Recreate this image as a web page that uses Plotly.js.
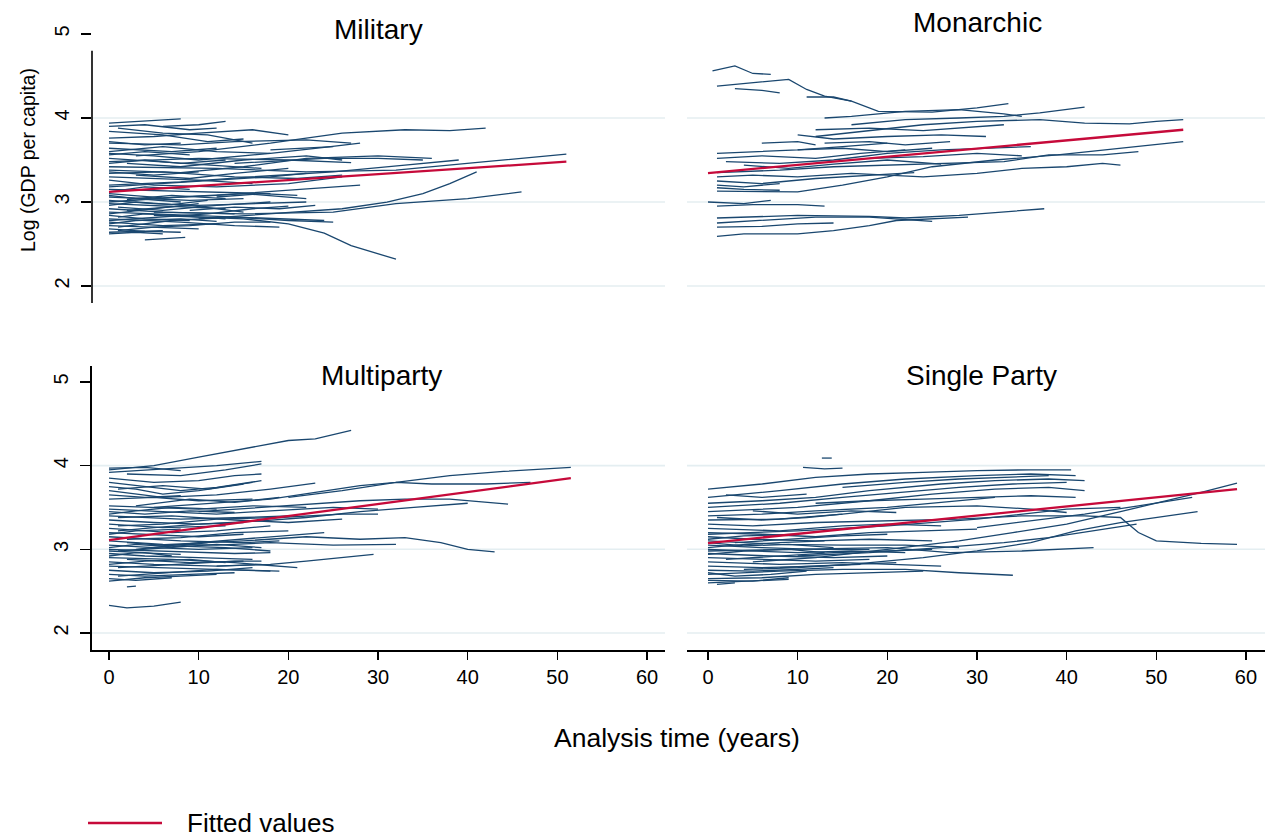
<!DOCTYPE html>
<html>
<head>
<meta charset="utf-8">
<script src="https://cdn.plot.ly/plotly-3.0.1.min.js"></script>
<style>
html,body{margin:0;padding:0;background:#fff;}
#chart{width:1265px;height:840px;}
</style>
</head>
<body>
<div id="chart"></div>
<script>
// ---- Data (analysis time in years, log GDP per capita) ----
// Each path: [t0, y0, t1, y1, ...]
const panelTitles = ["Military", "Monarchic", "Multiparty", "Single Party"];
const xTickVals = [0, 10, 20, 30, 40, 50, 60];
const yTickVals = [2, 3, 4, 5];
const gridVals = [2, 3, 4];

const militaryPaths = [
  [0,3.94, 8,3.99],
  [0,3.90, 4,3.92, 9,3.86, 12,3.88],
  [0,3.84, 6,3.80, 11,3.72, 15,3.75],
  [0,3.76, 5,3.78, 10,3.82, 16,3.86, 20,3.80],
  [0,3.70, 8,3.68, 14,3.72, 22,3.74, 27,3.70],
  [0,3.64, 7,3.60, 12,3.64],
  [3,3.55, 10,3.60, 18,3.70, 26,3.82, 33,3.86, 38,3.85, 42,3.88],
  [0,3.58, 5,3.55, 10,3.50, 18,3.58, 24,3.65, 28,3.70],
  [0,3.52, 6,3.48, 12,3.44, 17,3.40],
  [0,3.48, 10,3.52, 20,3.50, 27,3.47],
  [0,3.42, 12,3.40, 22,3.36, 32,3.38, 42,3.48, 51,3.57],
  [0,3.38, 8,3.35, 15,3.42, 22,3.52, 30,3.55, 36,3.52],
  [0,3.34, 6,3.36, 14,3.30, 21,3.28, 26,3.32],
  [0,3.30, 10,3.26, 16,3.22],
  [0,3.26, 5,3.20, 12,3.18, 20,3.22, 26,3.30],
  [0,3.20, 8,3.24, 16,3.30, 25,3.36, 33,3.44, 39,3.50],
  [0,3.15, 10,3.12, 18,3.10],
  [0,3.10, 6,3.05, 12,3.08, 20,3.14, 28,3.20],
  [0,3.06, 9,3.02, 15,3.04],
  [0,3.02, 5,2.98, 10,2.96, 16,2.98, 22,3.00],
  [0,2.98, 7,2.95, 13,2.92],
  [10,2.80, 20,2.88, 26,2.92, 31,3.00, 35,3.10, 38,3.22, 41,3.36],
  [5,2.88, 15,2.86, 25,2.88, 32,2.98, 40,3.04, 46,3.12],
  [0,2.92, 6,2.88, 14,2.86],
  [0,2.88, 10,2.84, 18,2.80, 24,2.78],
  [0,2.84, 4,2.80, 9,2.78],
  [0,2.80, 8,2.76, 14,2.72, 19,2.70],
  [0,2.76, 6,2.72, 12,2.74],
  [0,2.72, 5,2.70, 10,2.68],
  [0,2.68, 4,2.65, 8,2.64],
  [0,2.64, 6,2.66],
  [5,2.84, 15,2.80, 20,2.74, 24,2.63, 27,2.48, 32,2.32],
  [4,2.55, 8.5,2.58],
  [0,3.56, 4,3.60, 9,3.56],
  [1,3.88, 6,3.82, 11,3.80, 16,3.70],
  [2,3.46, 8,3.42, 15,3.50, 22,3.55, 26,3.50],
  [0,3.00, 8,3.06, 15,3.10, 22,3.04],
  [2,2.90, 9,2.96, 15,2.88],
  [0,3.12, 4,3.18, 9,3.15],
  [1,2.70, 7,2.78, 14,2.82, 20,2.78, 25,2.76],
  [0,2.86, 5,2.92, 10,2.98],
  [3,3.32, 9,3.28, 14,3.34, 20,3.40],
  [0,3.72, 4,3.68, 8,3.70],
  [14,3.46, 24,3.52, 30,3.52, 35,3.50],
  [18,3.62, 22,3.64, 25,3.66],
  [0,2.62, 3,2.64, 6,2.62],
  [0,3.18, 6,3.22, 12,3.26, 18,3.30, 22,3.34],
  [0,2.78, 5,2.82, 11,2.86, 16,2.92, 20,2.95],
  [0,3.36, 5,3.32, 10,3.36],
  [1,2.94, 6,2.90, 12,2.96, 18,3.00],
  [2,3.03, 7,3.08, 13,3.04],
  [0,2.96, 3,3.00, 7,2.97, 11,3.02],
  [1,2.82, 4,2.86, 9,2.83, 13,2.80],
  [0,2.74, 3,2.78, 8,2.80, 12,2.77],
  [0,3.08, 3,3.04, 8,3.00],
  [1,2.66, 5,2.70, 9,2.72, 14,2.76, 18,2.76],
  [0,3.46, 4,3.50, 8,3.46, 13,3.50],
  [0,3.60, 6,3.66, 12,3.60, 18,3.58],
  [6,3.90, 10,3.92, 13,3.96],
  [9,2.90, 14,2.94, 19,2.92, 23,2.96],
  [12,3.06, 17,3.10, 21,3.08]
];

const monarchicPaths = [
  [0.5,4.56, 3,4.62, 5,4.53, 7,4.52],
  [1,4.38, 5,4.42, 9,4.46, 11,4.34, 13,4.26, 16,4.20, 19,4.08, 25,4.07, 30,4.12, 33.5,4.17],
  [3,4.35, 6,4.33, 8,4.30],
  [11,4.25, 14,4.25, 16,4.20],
  [13,4.00, 16,4.02, 22,4.08, 28,4.10, 33,4.05, 35,4.02],
  [16,3.92, 22,3.98, 28,4.00, 33,4.02, 37,4.06, 42,4.13],
  [12,3.78, 18,3.85, 24,3.92, 30,3.96, 37,3.98, 42,3.94, 47,3.93, 50,3.96, 53,3.98],
  [12,3.86, 18,3.88, 24,3.85, 30,3.90, 33,3.92],
  [10,3.80, 14,3.75, 20,3.78, 26,3.80, 31,3.78],
  [13,3.70, 18,3.72, 22,3.68, 27,3.72],
  [1,3.58, 5,3.60, 10,3.62, 15,3.66, 20,3.70],
  [1,3.52, 6,3.55, 12,3.52, 17,3.58, 22,3.62],
  [2,3.48, 8,3.46, 14,3.50, 20,3.58, 26,3.62, 32,3.64, 36,3.66],
  [1,3.35, 8,3.38, 14,3.42, 20,3.44, 28,3.46, 33,3.48, 38,3.56, 44,3.56, 48,3.60],
  [1,3.13, 10,3.12, 15,3.20, 20,3.30, 25,3.42, 32,3.50, 39,3.56, 46,3.64, 50,3.68, 53,3.72],
  [1,3.25, 6,3.22, 12,3.28, 18,3.32, 23,3.35],
  [1,3.30, 5,3.32, 10,3.30, 16,3.34, 24,3.30, 30,3.34, 35,3.40, 40,3.42, 44,3.46, 46,3.44],
  [1,3.20, 4,3.18, 8,3.22],
  [1,3.17, 4,3.15, 8,3.14],
  [0,3.00, 4,2.98, 7,3.02],
  [1,2.95, 5,2.97, 10,2.97, 13,2.95],
  [1,2.81, 10,2.84, 18,2.83, 22,2.81, 28,2.84, 33,2.88, 37.5,2.92],
  [1,2.75, 7,2.79, 12,2.82, 18,2.82, 25,2.77],
  [1,2.59, 4,2.62, 10,2.62, 14,2.66, 18,2.72, 21,2.78, 29,2.82],
  [1,2.70, 6,2.71, 10,2.74, 14,2.75],
  [4,3.44, 9,3.40, 14,3.45, 20,3.50, 26,3.45],
  [10,3.62, 15,3.64, 20,3.60, 25,3.64],
  [18,3.52, 24,3.54, 30,3.58, 35,3.55],
  [6,3.70, 10,3.72, 12,3.68]
];

const multipartyPaths = [
  [0,3.95, 5,4.00, 10,4.10, 15,4.20, 20,4.30, 23,4.32, 27,4.42],
  [0,3.97, 4,3.98, 8,3.94],
  [0,3.92, 6,3.96, 12,4.00, 17,4.05],
  [2,3.90, 8,3.88, 13,3.95, 17,4.02],
  [0,3.85, 5,3.80, 10,3.82, 14,3.88, 17,3.90],
  [0,3.80, 4,3.75, 8,3.70, 12,3.74, 17,3.82],
  [0,3.75, 3,3.72, 6,3.66, 10,3.70, 15,3.78],
  [0,3.70, 6,3.62, 12,3.65, 18,3.72, 23,3.79],
  [5,3.50, 12,3.55, 18,3.60, 23,3.68, 28,3.76, 32,3.80, 38,3.88, 44,3.93, 51.5,3.98],
  [20,3.62, 26,3.70, 32,3.80, 36,3.78, 42,3.78, 47,3.80],
  [10,3.45, 20,3.52, 28,3.58, 33,3.60, 38,3.60, 44.5,3.54],
  [5,3.05, 15,3.10, 22,3.15, 28,3.12, 33,3.14, 37,3.08, 40,3.00, 43,2.97],
  [12,2.80, 18,2.82, 22,2.86, 26,2.90, 29.5,2.94],
  [0,2.33, 2,2.30, 5,2.32, 8,2.37],
  [0,3.52, 5,3.50, 10,3.48, 16,3.52, 22,3.50],
  [0,3.48, 6,3.45, 12,3.42, 18,3.46, 25,3.50, 30,3.48],
  [0,3.45, 4,3.42, 9,3.46, 14,3.44],
  [0,3.40, 8,3.36, 15,3.38, 20,3.40],
  [0,3.35, 5,3.32, 10,3.30, 17,3.34, 22,3.38, 28,3.45, 34,3.50, 40,3.55],
  [0,3.30, 6,3.26, 13,3.28],
  [0,3.25, 7,3.20, 12,3.22, 18,3.28],
  [0,3.20, 4,3.18, 10,3.15, 15,3.18],
  [0,3.15, 8,3.10, 15,3.08, 19,3.10],
  [0,3.10, 6,3.06, 12,3.05, 18,3.08, 25,3.05, 32,3.06],
  [0,3.05, 5,3.02, 10,3.00, 16,3.02],
  [0,3.00, 6,2.98, 14,2.95, 18,2.96],
  [0,2.95, 4,2.92, 10,2.90, 16,2.88],
  [0,2.90, 7,2.88, 14,2.84, 19,2.80, 21,2.78],
  [0,2.85, 5,2.82, 12,2.80, 17,2.82],
  [0,2.80, 6,2.78, 12,2.76, 18,2.74],
  [0,2.75, 5,2.72, 11,2.74, 16,2.78],
  [0,2.70, 4,2.68, 9,2.70, 14,2.72],
  [0,2.65, 3,2.63, 7,2.66],
  [2,2.55, 3,2.56],
  [0,3.60, 5,3.62, 10,3.58, 16,3.60],
  [0,3.65, 4,3.62, 8,3.64],
  [1,3.38, 7,3.40, 14,3.35, 20,3.32, 26,3.36],
  [2,3.12, 8,3.14, 14,3.20, 20,3.22],
  [1,2.98, 6,3.02, 12,3.06, 17,3.02],
  [2,2.88, 9,2.84, 15,2.86],
  [1,2.78, 8,2.82, 14,2.86, 17,2.86],
  [3,3.00, 10,3.08, 17,3.14, 22,3.18, 24,3.20],
  [3,3.52, 9,3.60, 14,3.56, 19,3.62],
  [1,3.28, 6,3.30, 12,3.36, 19,3.38, 26,3.42, 30,3.42],
  [0,2.98, 4,2.96, 7,2.92],
  [1,3.72, 6,3.76, 11,3.72, 16,3.80],
  [2,3.08, 7,3.04, 13,3.02, 18,2.98],
  [1,2.68, 6,2.72, 12,2.76, 19,2.74],
  [1,3.22, 5,3.26, 10,3.30, 15,3.32],
  [0,3.02, 3,3.06, 7,3.03, 11,3.08],
  [0,2.92, 3,2.96, 8,2.94],
  [0,2.82, 4,2.86, 9,2.88, 13,2.84],
  [0,3.42, 3,3.46, 7,3.50, 12,3.48],
  [0,3.18, 3,3.22, 8,3.24],
  [0,2.62, 4,2.66, 8,2.68, 12,2.70]
];

const singlePartyPaths = [
  [10.6,3.98, 13,3.96, 15,3.97],
  [12.7,4.09, 13.8,4.09],
  [0,3.72, 6,3.78, 12,3.86, 18,3.90, 24,3.92, 30,3.94, 36,3.95, 40.5,3.95],
  [0,3.62, 8,3.70, 15,3.78, 22,3.84, 30,3.88, 36,3.90, 41,3.88],
  [0,3.55, 6,3.58, 12,3.62, 18,3.70, 26,3.78, 32,3.82, 38,3.84, 42,3.82],
  [0,3.50, 8,3.55, 15,3.62, 22,3.68, 28,3.74, 34,3.78, 40,3.80],
  [0,3.45, 10,3.50, 18,3.58, 25,3.66, 32,3.72, 38,3.74, 42,3.70],
  [0,3.40, 6,3.42, 12,3.46, 20,3.50, 26,3.56, 32,3.62],
  [0,3.35, 8,3.36, 15,3.42, 22,3.50, 30,3.52, 36,3.48, 40,3.44],
  [0,3.30, 5,3.28, 12,3.32, 20,3.34, 28,3.36, 35,3.40, 42,3.40, 46,3.38, 48,3.20, 50,3.10, 55,3.07, 59,3.06],
  [0,3.25, 8,3.22, 15,3.28, 20,3.30, 26,3.28],
  [0,3.20, 6,3.18, 12,3.15, 18,3.20, 24,3.22, 30,3.24],
  [0,3.15, 5,3.12, 12,3.10, 18,3.12, 25,3.10],
  [0,3.10, 8,3.06, 15,3.05, 22,3.05, 28,3.02],
  [0,3.05, 6,3.02, 12,3.00, 18,3.00],
  [0,3.00, 5,2.98, 10,2.96, 16,2.98, 22,2.96],
  [0,2.95, 7,2.92, 14,2.90, 20,2.92],
  [0,2.90, 5,2.88, 12,2.86, 18,2.88],
  [0,2.85, 8,2.82, 15,2.84, 22,2.82, 26,2.80],
  [0,2.80, 6,2.78, 12,2.80, 17,2.82],
  [0,2.75, 5,2.74, 10,2.76, 14,2.78],
  [0,2.70, 8,2.74, 15,2.76, 22,2.76, 28,2.72, 34,2.69],
  [0,2.65, 6,2.66, 12,2.70, 18,2.72, 24,2.74],
  [0,2.60, 4,2.62, 9,2.64],
  [1,2.58, 3,2.60],
  [5,2.85, 12,2.90, 20,3.00, 28,3.10, 34,3.20, 40,3.30, 46,3.45, 50,3.55, 55,3.68, 59,3.79],
  [8,2.78, 16,2.82, 24,2.90, 30,2.98, 36,3.08, 41,3.22, 46,3.32, 50,3.38, 54.6,3.45],
  [10,2.92, 18,2.96, 26,3.02, 33,3.08, 38,3.14, 43,3.22, 47.8,3.30],
  [0,2.98, 10,3.00, 20,3.02, 27,2.96, 35,2.98, 43,3.02],
  [30,3.26, 36,3.34, 42,3.42, 48,3.52, 54,3.62],
  [2,3.65, 6,3.62, 11,3.66],
  [1,3.38, 6,3.35, 11,3.38, 15,3.42],
  [0,3.18, 10,3.22, 20,3.28, 30,3.36, 40,3.48, 46,3.50],
  [3,3.08, 9,3.12, 15,3.16, 20,3.18],
  [2,2.88, 8,2.92, 14,2.96, 20,2.98, 25,3.00],
  [4,2.76, 10,2.78, 16,2.82, 21,2.84],
  [0,3.02, 3,3.05, 8,3.08, 13,3.10],
  [0,3.12, 4,3.16, 10,3.18],
  [12,3.55, 18,3.58, 24,3.60, 30,3.62, 36,3.64, 41,3.62],
  [15,3.74, 22,3.80, 28,3.84, 34,3.86, 38,3.88],
  [0,2.63, 5,2.62, 9,2.66],
  [0,3.08, 4,3.04, 9,3.06, 14,3.02],
  [0,2.94, 4,2.98, 9,3.00, 13,2.96],
  [0,2.72, 3,2.68, 7,2.70, 11,2.74],
  [5,3.46, 10,3.42, 16,3.46, 21,3.44]
];

// Fitted values (linear fit), endpoints
const militaryFitT = [0, 51];
const militaryFitY = [3.12, 3.48];
const monarchicFitT = [0, 53];
const monarchicFitY = [3.345, 3.86];
const multipartyFitT = [0, 51.5];
const multipartyFitY = [3.11, 3.85];
const singlePartyFitT = [0, 59];
const singlePartyFitY = [3.075, 3.72];

// ---- Layout geometry (pixels) ----
const W = 1265, H = 840;
const px = v => v / W;
const py = v => 1 - v / H;
const NAVY = '#1a476f';
const RED = '#c60a3a';
const FONT = 'Arial, "Liberation Sans", sans-serif';

function pathTrace(paths, xa, ya) {
  const x = [], y = [];
  paths.forEach(p => {
    for (let i = 0; i < p.length; i += 2) { x.push(p[i]); y.push(p[i + 1]); }
    x.push(null); y.push(null);
  });
  return {x, y, xaxis: xa, yaxis: ya, type: 'scatter', mode: 'lines',
    line: {color: NAVY, width: 1.3}, connectgaps: false, showlegend: false, hoverinfo: 'skip'};
}
function fitTrace(t, v, xa, ya) {
  return {x: t, y: v, xaxis: xa, yaxis: ya, type: 'scatter', mode: 'lines',
    line: {color: RED, width: 2.3}, showlegend: false, name: 'Fitted values'};
}

const traces = [
  pathTrace(militaryPaths, 'x', 'y'),
  pathTrace(monarchicPaths, 'x2', 'y2'),
  pathTrace(multipartyPaths, 'x3', 'y3'),
  pathTrace(singlePartyPaths, 'x4', 'y4'),
  fitTrace(militaryFitT, militaryFitY, 'x', 'y'),
  fitTrace(monarchicFitT, monarchicFitY, 'x2', 'y2'),
  fitTrace(multipartyFitT, multipartyFitY, 'x3', 'y3'),
  fitTrace(singlePartyFitT, singlePartyFitY, 'x4', 'y4')
];

// panel domains
const leftDom = [px(92), px(665)];
const rightDom = [px(687), 1];
const topDom = [py(303), py(34)];
const botDom = [py(650), py(366)];
const leftRange = [-1.896, 62.0];
const rightRange = [-2.342, 62.12];
const topRange = [1.798, 5.0];
const botRange = [1.797, 5.19];

const hiddenAx = (dom, rng) => ({domain: dom, range: rng, visible: false, fixedrange: true});
const shownX = (dom, rng, anchor) => ({
  domain: dom, range: rng, anchor: anchor, showgrid: false, zeroline: false,
  showline: true, linecolor: '#000', linewidth: 1.6,
  ticks: 'outside', ticklen: 8, tickwidth: 1.4, tickcolor: '#000',
  tickvals: xTickVals, ticktext: xTickVals.map(String),
  ticklabelstandoff: 0,
  tickfont: {family: FONT, size: 20, color: '#000'}
});
const shownY = (dom, rng, anchor, line) => ({
  domain: dom, range: rng, anchor: anchor, showgrid: false, zeroline: false,
  showline: line, linecolor: '#000', linewidth: 1.6,
  ticks: 'outside', ticklen: 10, tickwidth: 1.4, tickcolor: '#000',
  tickvals: yTickVals, ticktext: yTickVals.map(String), tickangle: -90,
  ticklabelstandoff: 4,
  tickfont: {family: FONT, size: 20, color: '#000'}
});

const shapes = [];
// gridlines
[['y', leftDom], ['y2', rightDom], ['y3', leftDom], ['y4', rightDom]].forEach(([ya, dom]) => {
  gridVals.forEach(g => {
    shapes.push({type: 'line', xref: 'paper', yref: ya, x0: dom[0], x1: dom[1], y0: g, y1: g,
      line: {color: '#e4eef1', width: 1.6}, layer: 'below'});
  });
});
// top-left axis line (does not reach the 5 tick in the reference)
shapes.push({type: 'line', xref: 'paper', yref: 'y', x0: px(92), x1: px(92), y0: 1.798, y1: 4.8,
  line: {color: '#000', width: 1.6}});
// legend sample line
shapes.push({type: 'line', xref: 'paper', yref: 'paper', x0: px(88), x1: px(162), y0: py(823), y1: py(823),
  line: {color: RED, width: 2.4}});

const annFont = s => ({family: FONT, size: s, color: '#000'});
const annotations = [
  {text: panelTitles[0], x: px(378), y: py(30), xref: 'paper', yref: 'paper', showarrow: false, font: annFont(28), xanchor: 'center', yanchor: 'middle'},
  {text: panelTitles[1], x: px(977), y: py(22), xref: 'paper', yref: 'paper', showarrow: false, font: annFont(28), xanchor: 'center', yanchor: 'middle'},
  {text: panelTitles[2], x: px(381), y: py(376), xref: 'paper', yref: 'paper', showarrow: false, font: annFont(28), xanchor: 'center', yanchor: 'middle'},
  {text: panelTitles[3], x: px(981), y: py(376), xref: 'paper', yref: 'paper', showarrow: false, font: annFont(28), xanchor: 'center', yanchor: 'middle'},
  {text: 'Analysis time (years)', x: px(677), y: py(738), xref: 'paper', yref: 'paper', showarrow: false, font: annFont(26.5), xanchor: 'center', yanchor: 'middle'},
  {text: 'Log (GDP per capita)', x: px(28), y: py(160), xref: 'paper', yref: 'paper', showarrow: false, font: annFont(19.5), textangle: -90, xanchor: 'center', yanchor: 'middle'},
  {text: 'Fitted values', x: px(185), y: py(823), xref: 'paper', yref: 'paper', showarrow: false, font: annFont(26), xanchor: 'left', yanchor: 'middle'}
];

const layout = {
  width: W, height: H,
  margin: {l: 0, r: 0, t: 0, b: 0},
  paper_bgcolor: '#fff', plot_bgcolor: 'rgba(0,0,0,0)',
  showlegend: false,
  font: {family: FONT, color: '#000'},
  xaxis: hiddenAx(leftDom, leftRange),
  yaxis: shownY(topDom, topRange, 'x', false),
  xaxis2: hiddenAx(rightDom, rightRange),
  yaxis2: Object.assign(hiddenAx(topDom, topRange), {anchor: 'x2'}),
  xaxis3: shownX(leftDom, leftRange, 'y3'),
  yaxis3: shownY(botDom, botRange, 'x3', true),
  xaxis4: shownX(rightDom, rightRange, 'y4'),
  yaxis4: Object.assign(hiddenAx(botDom, botRange), {anchor: 'x4'}),
  shapes: shapes,
  annotations: annotations
};

Plotly.newPlot('chart', traces, layout, {staticPlot: true, displayModeBar: false});
</script>
</body>
</html>
